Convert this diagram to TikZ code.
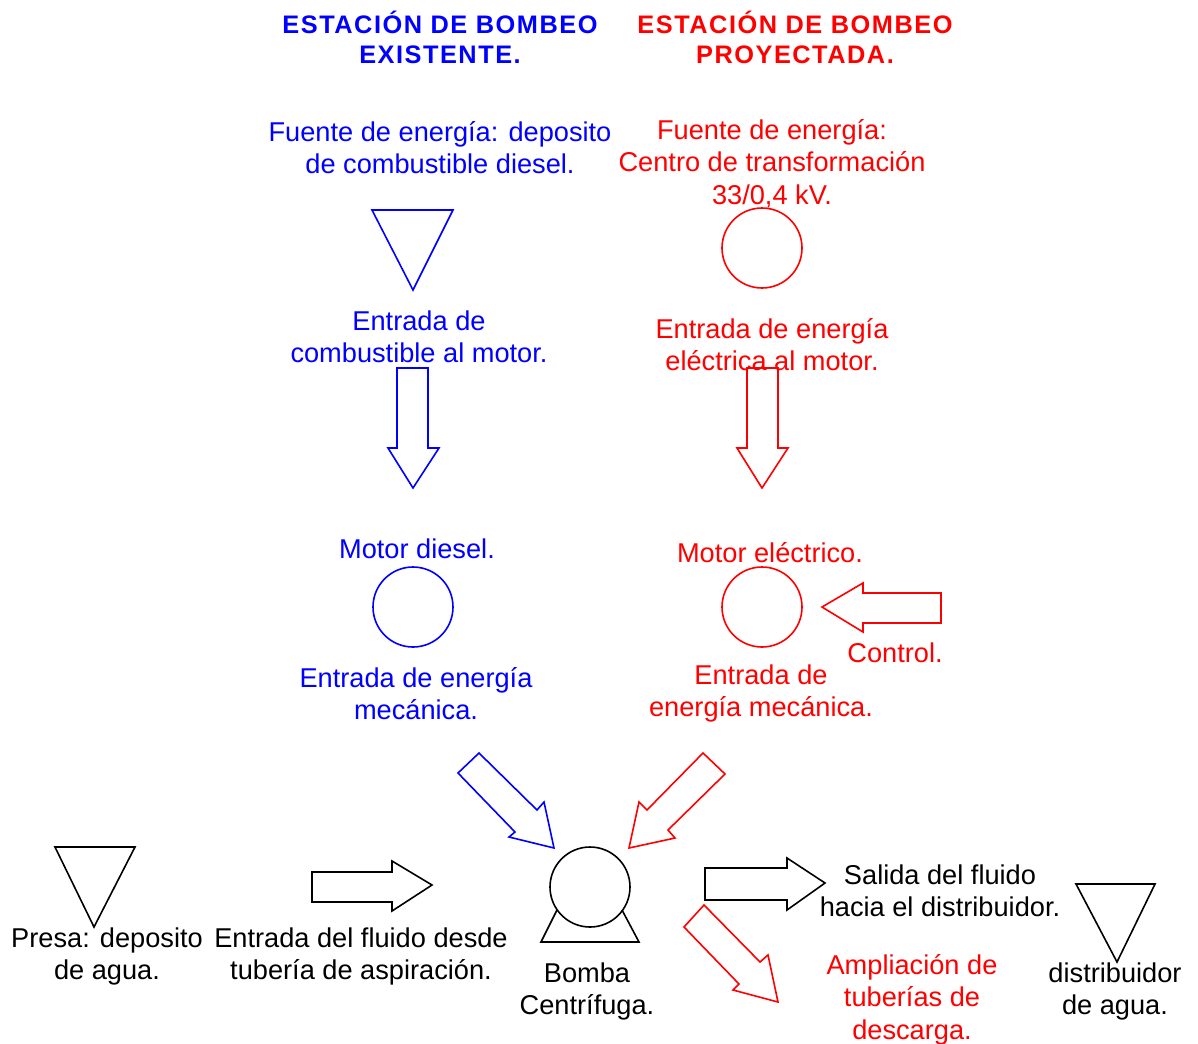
\documentclass[tikz,border=0pt]{standalone}
\usepackage{fontspec}
\setmainfont{Liberation Sans}
\newfontfamily\titlefont{Liberation Sans}[LetterSpace=6]
\definecolor{blu}{RGB}{0,0,255}
\definecolor{rd}{RGB}{255,0,0}
\tikzset{
  txt/.style={align=center, font=\fontsize{20.4}{24.4}\selectfont, inner sep=0pt, yshift=-2pt},
  ttl/.style={align=center, font=\titlefont\bfseries\fontsize{19}{22.5}\selectfont, inner sep=0pt, yshift=1pt},
  shp/.style={line width=1.2pt, line join=miter},
  circ/.style={circle, draw, minimum size=60pt, inner sep=0pt, line width=1.2pt}
}
\begin{document}
\begin{tikzpicture}[x=0.75pt,y=-0.75pt]
\useasboundingbox (0,0) rectangle (1198,1043);
% titles
\node[ttl, text=blu] (tB) at (440,39) {ESTACIÓN DE BOMBEO\\EXISTENTE.};
\node[ttl, text=rd] (tR) at (795,39) {ESTACIÓN DE BOMBEO\\PROYECTADA.};
% energy sources
\node[txt, text=blu] (fB) at (440,145) {Fuente de energía: deposito\\de combustible diesel.};
\node[txt, text=rd] (fR) at (772,161) {Fuente de energía:\\Centro de transformación\\33/0,4 kV.};
\draw[shp, blu] (372,210) -- (453,210) -- (413,290) -- cycle;
\node[circ, draw=rd] (cR) at (762,248) {};
% inputs to motor
\node[txt, text=blu] (eB) at (419,334) {Entrada de\\combustible al motor.};
\node[txt, text=rd] (eR) at (772,342) {Entrada de energía\\eléctrica al motor.};
\draw[shp, blu] (397,368) -- (428,368) -- (428,448) -- (439,448) -- (413,488) -- (388,448) -- (397,448) -- cycle;
\draw[shp, rd] (747,368) -- (778,368) -- (778,448) -- (788,448) -- (762,488) -- (737,448) -- (747,448) -- cycle;
% motors
\node[txt, text=blu] (mB) at (417,546) {Motor diesel.};
\node[txt, text=rd] (mR) at (770,550) {Motor eléctrico.};
\node[circ, draw=blu] (cmB) at (413,607) {};
\node[circ, draw=rd] (cmR) at (762,607) {};
\draw[shp, rd] (941,593) -- (863,593) -- (863,583) -- (822,607) -- (863,632) -- (863,623) -- (941,623) -- cycle;
\node[txt, text=rd] (ctl) at (895,650) {Control.};
% mechanical energy
\node[txt, text=blu] (emB) at (416,691) {Entrada de energía\\mecánica.};
\node[txt, text=rd] (emR) at (761,691) {Entrada de\\energía mecánica.};
\draw[shp, blu] (458,773) -- (479,753) -- (537,810) -- (544,802) -- (554,848) -- (509,837) -- (515,832) -- cycle;
\draw[shp, rd] (703,753) -- (725,774) -- (668,830) -- (675,838) -- (629,848) -- (639,802) -- (647,810) -- cycle;
% pump
\node[circ, draw=black] (pump) at (590,887) {};
\draw[shp] (557,910) -- (541,942) -- (639,942) -- (622,910);
\node[txt] (bomba) at (587,989) {Bomba\\Centrífuga.};
% inlet
\draw[shp] (55,847) -- (135,847) -- (94,927) -- cycle;
\node[txt] (presa) at (107,954) {Presa: deposito\\de agua.};
\draw[shp] (312,872) -- (392,872) -- (392,861) -- (432,885) -- (392,911) -- (392,902) -- (312,902) -- cycle;
\node[txt] (entr) at (361,954) {Entrada del fluido desde\\tubería de aspiración.};
% outlet
\draw[shp] (705,868) -- (787,868) -- (787,858) -- (825,883) -- (787,910) -- (787,900) -- (705,900) -- cycle;
\node[txt] (sal) at (940,888) {Salida del fluido\\hacia el distribuidor.};
\draw[shp, rd] (684,927) -- (704,905) -- (760,962) -- (768,955) -- (778,1002) -- (733,990) -- (739,984) -- cycle;
\node[txt, text=rd] (ampl) at (912,997) {Ampliación de\\tuberías de\\descarga.};
\draw[shp] (1076,884) -- (1155,884) -- (1117,962) -- cycle;
\node[txt] (dist) at (1115,989) {distribuidor\\de agua.};
\end{tikzpicture}
\end{document}
